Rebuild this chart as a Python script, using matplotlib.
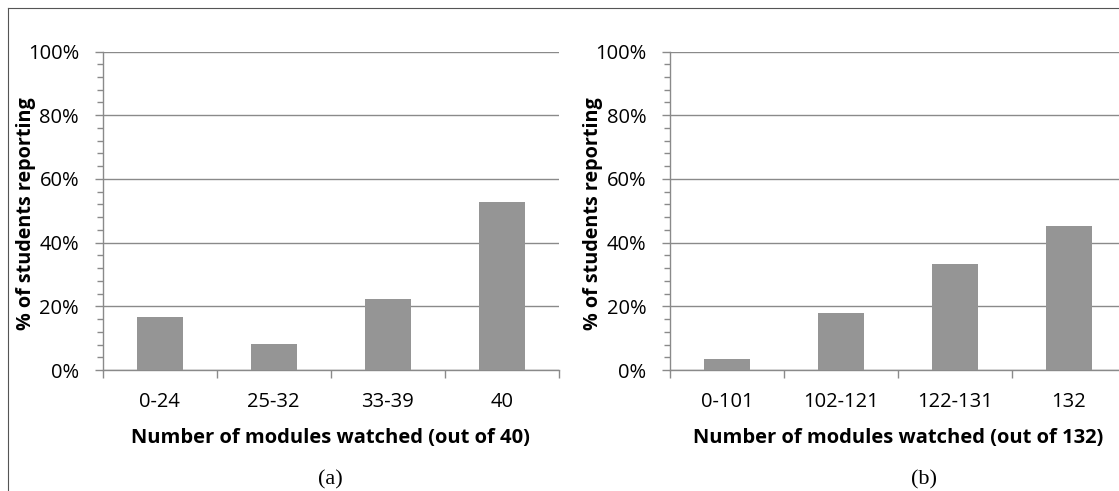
import matplotlib
matplotlib.use("Agg")
import matplotlib.pyplot as plt
from matplotlib.lines import Line2D
from matplotlib.ticker import MultipleLocator, PercentFormatter

# data
cats_a = ["0-24", "25-32", "33-39", "40"]
vals_a = [16.7, 8.3, 22.2, 52.8]
cats_b = ["0-101", "102-121", "122-131", "132"]
vals_b = [3.6, 17.9, 33.3, 45.2]
xlabel_a = "Number of modules watched (out of 40)"
xlabel_b = "Number of modules watched (out of 132)"
ylabel = "% of students reporting"

plt.rcParams['font.family'] = ['Open Sans', 'DejaVu Sans']

W, H = 1119, 491
fig = plt.figure(figsize=(W / 100, H / 100), dpi=100)

bar_color = "#959595"
line_color = "#8a8a8a"


def draw_panel(left_px, cats, vals, xlabel, caption, cap_x=0.5):
    ax = fig.add_axes([left_px / W, 1 - 370 / H, 456 / W, 318.5 / H])
    x = range(len(cats))
    ax.bar(x, vals, width=0.4, color=bar_color, zorder=3)
    ax.set_xlim(-0.5, len(cats) - 0.5)
    ax.set_ylim(0, 100)
    ax.yaxis.set_major_locator(MultipleLocator(20))
    ax.yaxis.set_minor_locator(MultipleLocator(4))
    ax.yaxis.set_major_formatter(PercentFormatter(decimals=0))
    ax.grid(axis='y', which='major', color=line_color, linewidth=1.0, zorder=0)
    for s in ['top', 'right']:
        ax.spines[s].set_visible(False)
    for s in ['left', 'bottom']:
        ax.spines[s].set_color(line_color)
        ax.spines[s].set_linewidth(1.0)
    ax.set_xticks(x)
    ax.set_xticklabels(cats, fontsize=14.5)
    ax.set_xticks([i - 0.5 for i in range(len(cats) + 1)], minor=True)
    ax.tick_params(axis='x', which='major', length=0, pad=16)
    ax.tick_params(axis='x', which='minor', length=6, color=line_color, width=1.0)
    ax.tick_params(axis='y', which='major', length=6, color=line_color, width=1.0,
                   labelsize=14.5, pad=11)
    ax.tick_params(axis='y', which='minor', length=4, color=line_color, width=1.0)
    ax.set_xlabel(xlabel, fontsize=14.5, fontweight='bold', labelpad=11)
    ax.set_ylabel(ylabel, fontsize=14.2, fontweight='bold')
    ax.yaxis.set_label_coords(-0.146, 0.49)
    ax.text(cap_x, -0.345, caption, transform=ax.transAxes, ha='center', va='center',
            fontsize=16, family='Liberation Serif')
    return ax


ax1 = draw_panel(102.7, cats_a, vals_a, xlabel_a, "(a)")
# caption (b) sits under the visible part of the right panel
ax2 = draw_panel(670, cats_b, vals_b, xlabel_b, "(b)", cap_x=0.556)

# outer frame (top and left edges visible)
fig.add_artist(Line2D([8 / W, 8 / W], [0, 1 - 7.5 / H], color="#555555", linewidth=0.8))
fig.add_artist(Line2D([8 / W, 1], [1 - 7.5 / H, 1 - 7.5 / H], color="#555555", linewidth=0.8))

fig.savefig("out.png", dpi=100)
